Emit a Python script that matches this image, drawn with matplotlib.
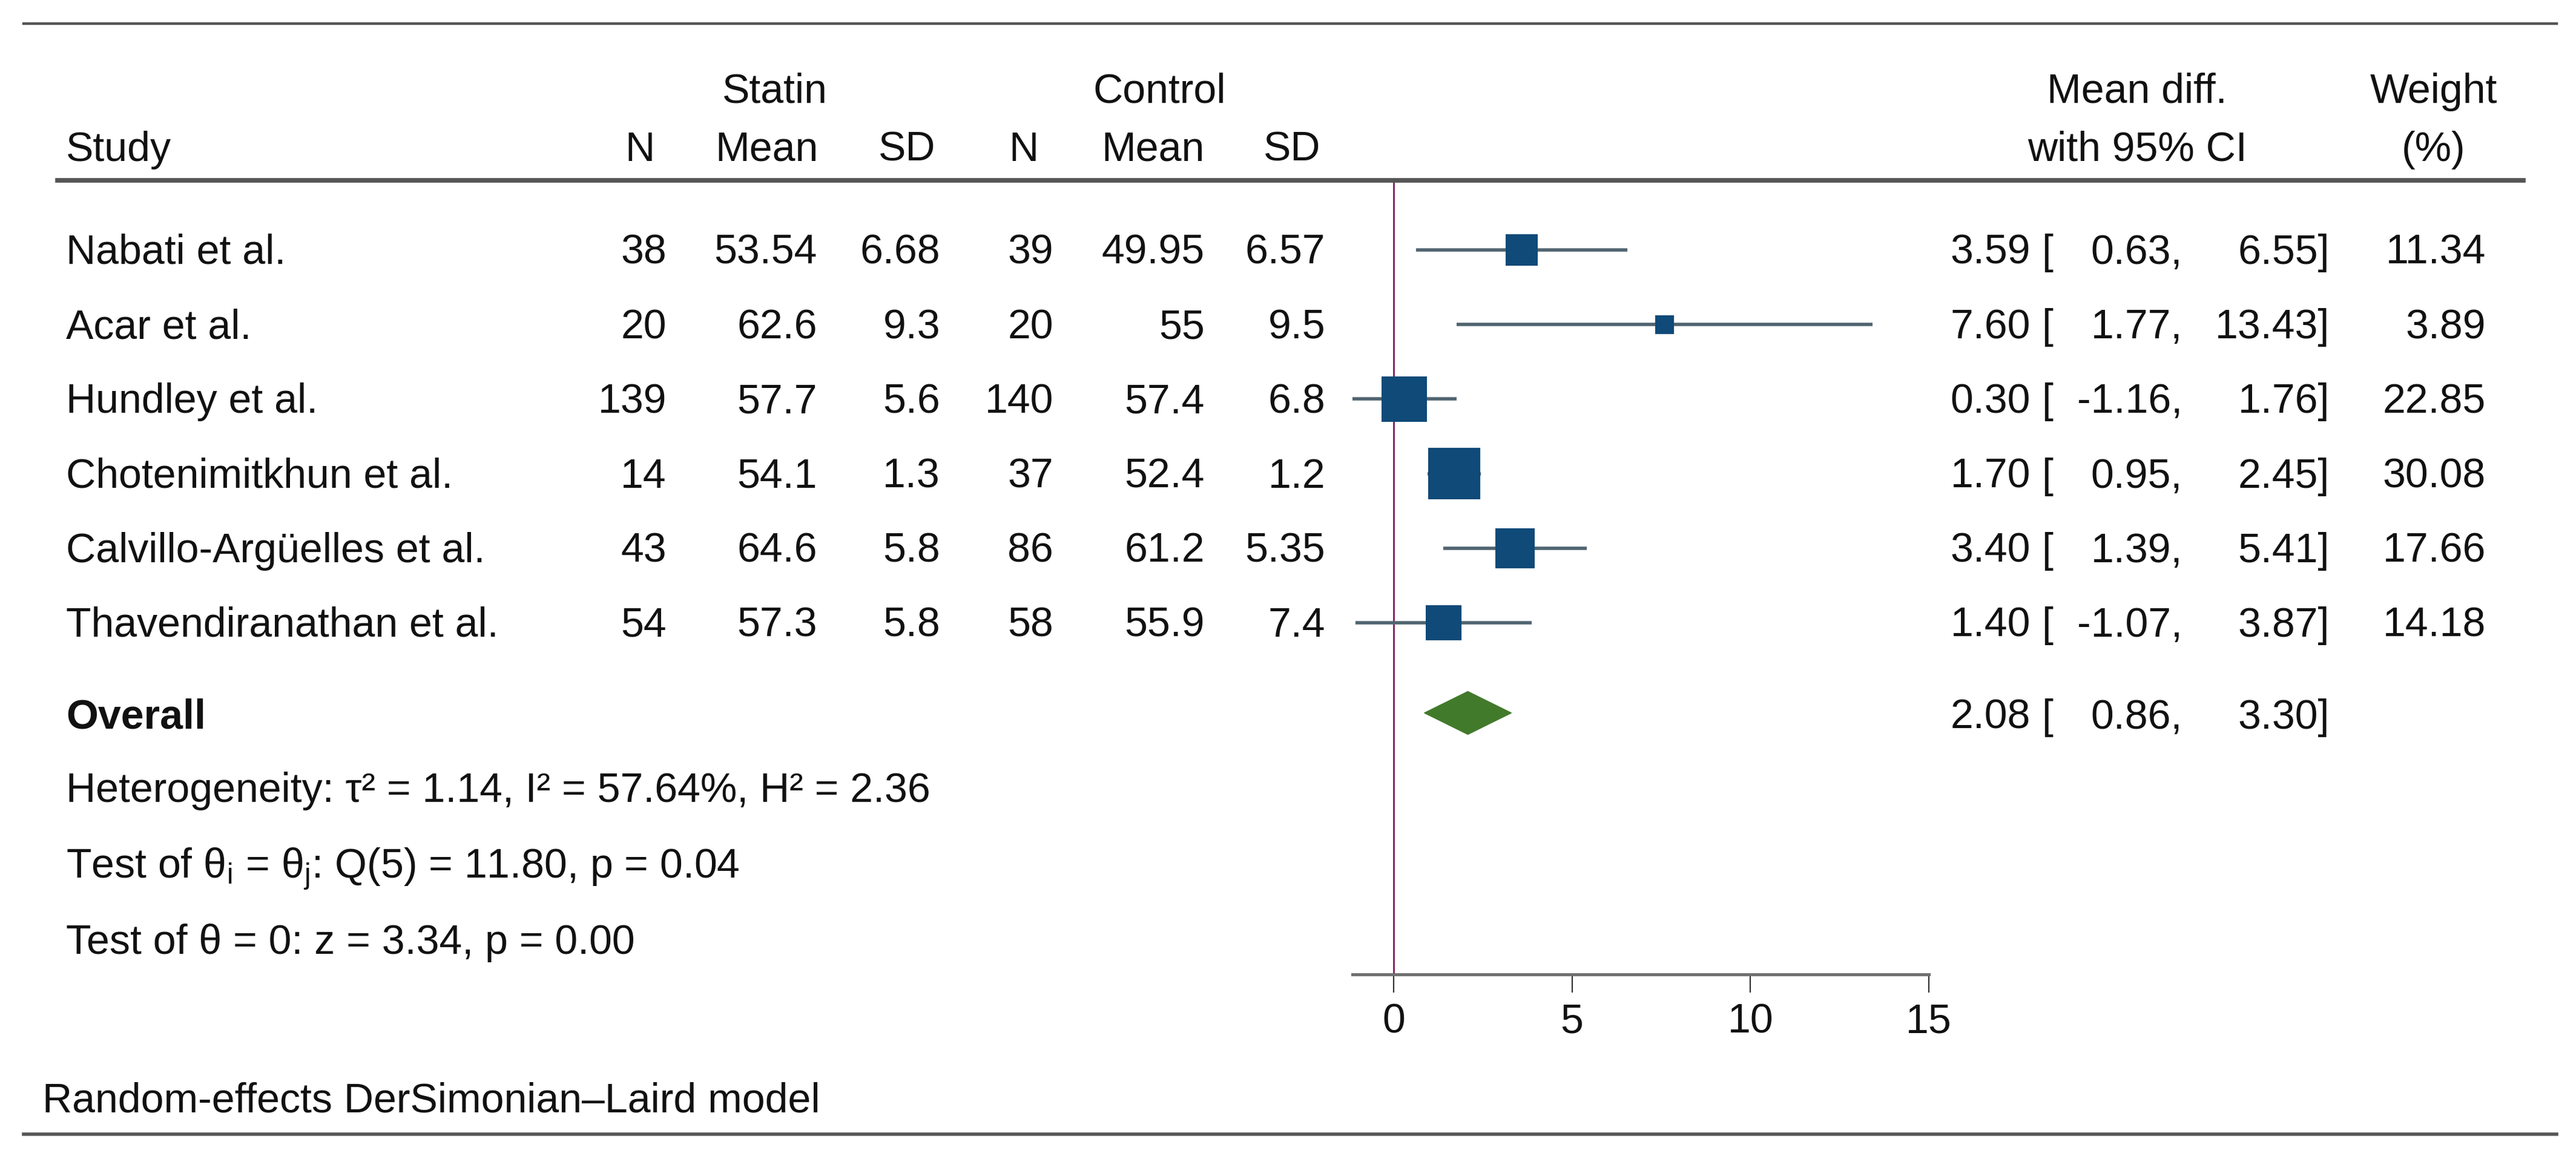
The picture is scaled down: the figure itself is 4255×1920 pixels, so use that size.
import matplotlib
matplotlib.use("Agg")
import matplotlib.pyplot as plt
import matplotlib.transforms as mtransforms
from matplotlib.lines import Line2D
from matplotlib.patches import Polygon
import numpy as np

# ---------------- data ----------------
studies = ["Nabati et al.", "Acar et al.", "Hundley et al.", "Chotenimitkhun et al.",
           "Calvillo-Argüelles et al.", "Thavendiranathan et al."]
statin_n = [38, 20, 139, 14, 43, 54]
statin_mean = [53.54, 62.6, 57.7, 54.1, 64.6, 57.3]
statin_sd = [6.68, 9.3, 5.6, 1.3, 5.8, 5.8]
control_n = [39, 20, 140, 37, 86, 58]
control_mean = [49.95, 55, 57.4, 52.4, 61.2, 55.9]
control_sd = [6.57, 9.5, 6.8, 1.2, 5.35, 7.4]
mean_diff = [3.59, 7.60, 0.30, 1.70, 3.40, 1.40]
ci_low = [0.63, 1.77, -1.16, 0.95, 1.39, -1.07]
ci_high = [6.55, 13.43, 1.76, 2.45, 5.41, 3.87]
weights = [11.34, 3.89, 22.85, 30.08, 17.66, 14.18]
overall_est, overall_lo, overall_hi = 2.08, 0.86, 3.30
xticks = [0, 5, 10, 15]
stats_lines = ["Heterogeneity: τ² = 1.14, I² = 57.64%, H² = 2.36",
               r"Test of θ$_\mathregular{i}$ = θ$_\mathregular{j}$: Q(5) = 11.80, p = 0.04",
               "Test of θ = 0: z = 3.34, p = 0.00"]
footnote = "Random-effects DerSimonian–Laird model"

# ---------------- style ----------------
plt.rcParams['font.family'] = ['Liberation Sans', 'DejaVu Sans']
plt.rcParams['mathtext.fontset'] = 'custom'
plt.rcParams['mathtext.rm'] = 'Liberation Sans'
plt.rcParams['mathtext.it'] = 'Liberation Sans:italic'
FS = 49
SQ_COL = "#0f4a78"
CI_COL = "#506470"
DIA_COL = "#427a2b"
NULL_COL = "#8a2a6a"
RULE_COL = "#555555"

W, H, DPI = 4255, 1920, 100
fig = plt.figure(figsize=(W / DPI, H / DPI), dpi=DPI)
fig.patch.set_facecolor("white")

# layout constants (pixels)
XPX0 = 2302.0          # pixel of x = 0
PPU = 58.93            # pixels per unit
Y0 = 413.0             # centre of first study row
RPX = 123.2            # row spacing

ax = fig.add_axes([0, 0, 1, 1])
ax.set_xlim((0 - XPX0) / PPU, (W - XPX0) / PPU)
ax.set_ylim((H - Y0) / RPX, (0 - Y0) / RPX)
ax.patch.set_alpha(0)
for s in ["top", "right", "left"]:
    ax.spines[s].set_visible(False)
ax.set_yticks([])

def prow(py):
    return (py - Y0) / RPX

# pixel transform for text placement
pix = mtransforms.Affine2D().scale(1.0 / W, -1.0 / H).translate(0, 1) + fig.transFigure

def txt(x, y, s, ha="left", **kw):
    fig.text(x, y, s, ha=ha, va="baseline", fontsize=kw.pop("fontsize", FS),
             transform=pix, color="#111111", **kw)

def fmt(v):
    return f"{v:g}"

# ---------------- rules ----------------
fig.add_artist(Line2D([39, 4223], [39, 39], transform=pix, color=RULE_COL, lw=3.2))
fig.add_artist(Line2D([95, 4168], [298, 298], transform=pix, color=RULE_COL, lw=5.5))
fig.add_artist(Line2D([39, 4223], [1874, 1874], transform=pix, color=RULE_COL, lw=4.0))

# ---------------- headers ----------------
txt(1280, 170, "Statin", ha="center")
txt(1915, 170, "Control", ha="center")
txt(3530, 170, "Mean diff.", ha="center")
txt(4020, 170, "Weight", ha="center")
txt(109, 266, "Study")
txt(1082, 266, "N", ha="right")
txt(1352, 266, "Mean", ha="right")
txt(1545, 266, "SD", ha="right")
txt(1716, 266, "N", ha="right")
txt(1990, 266, "Mean", ha="right")
txt(2181, 266, "SD", ha="right")
txt(3530, 266, "with 95% CI", ha="center")
txt(4020, 266, "(%)", ha="center")

# ---------------- study rows ----------------
cols_x = [1101, 1350, 1553, 1740, 1990, 2189]
for i, name in enumerate(studies):
    yb = Y0 + i * RPX + 23
    txt(109, yb, name)
    vals = [str(statin_n[i]), fmt(statin_mean[i]), fmt(statin_sd[i]),
            str(control_n[i]), fmt(control_mean[i]), fmt(control_sd[i])]
    for cx, v in zip(cols_x, vals):
        txt(cx, yb, v, ha="right")
    txt(3354, yb, f"{mean_diff[i]:.2f}", ha="right")
    txt(3372, yb, "[")
    txt(3605, yb, f"{ci_low[i]:.2f},", ha="right")
    txt(3848, yb, f"{ci_high[i]:.2f}]", ha="right")
    txt(4106, yb, f"{weights[i]:.2f}", ha="right")

# CI lines and squares
rows = np.arange(len(studies))
ax.hlines(rows, ci_low, ci_high, color=CI_COL, lw=4.0, zorder=2)
side_px = 15.6 * np.sqrt(np.array(weights))
ax.scatter(mean_diff, rows, marker="s", s=(side_px * 72 / DPI) ** 2,
           color=SQ_COL, linewidths=0, zorder=3)

# ---------------- overall ----------------
ov_c = 1178
yb = ov_c + 26
fig.text(109, yb, "Overall", ha="left", va="baseline", fontsize=FS,
         fontweight="bold", transform=pix, color="#111111")
txt(3354, yb, f"{overall_est:.2f}", ha="right")
txt(3372, yb, "[")
txt(3605, yb, f"{overall_lo:.2f},", ha="right")
txt(3848, yb, f"{overall_hi:.2f}]", ha="right")
dy = prow(ov_c)
hh = 71 / RPX / 2
diamond = Polygon([[overall_lo, dy], [overall_est, dy - hh], [overall_hi, dy],
                   [overall_est, dy + hh]], closed=True, facecolor=DIA_COL,
                  edgecolor=DIA_COL, lw=1, zorder=3)
ax.add_patch(diamond)

# stats lines
for yb_s, s in zip([1325, 1450, 1576], stats_lines):
    txt(109, yb_s, s)
txt(70, 1837, footnote)

# ---------------- null line & axis ----------------
axis_row = prow(1610)
ax.plot([0, 0], [prow(298), axis_row], color=NULL_COL, lw=2.2, zorder=1)

ax.spines["bottom"].set_position(("data", axis_row))
ax.spines["bottom"].set_bounds(min(ci_low), max(xticks))
ax.spines["bottom"].set_linewidth(3.6)
ax.spines["bottom"].set_color("#707070")
ax.set_xticks(xticks)
ax.set_xticklabels([str(t) for t in xticks])
ax.tick_params(axis="x", direction="out", length=21.6, width=1.6, pad=12,
               labelsize=FS, color="#333333", labelcolor="#111111")

fig.savefig("out.png", dpi=DPI, facecolor="white")
